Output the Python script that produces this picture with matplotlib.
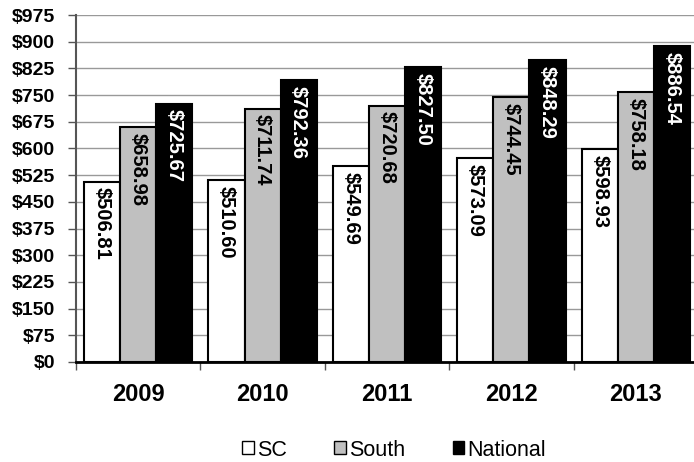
import numpy as np
import matplotlib.pyplot as plt
from matplotlib.patches import Patch

years = ['2009', '2010', '2011', '2012', '2013']
sc = [506.81, 510.60, 549.69, 573.09, 598.93]
south = [658.98, 711.74, 720.68, 744.45, 758.18]
national = [725.67, 792.36, 827.50, 848.29, 886.54]

plt.rcParams['font.family'] = ['Liberation Sans', 'DejaVu Sans']

fig = plt.figure(figsize=(6.94, 4.62), dpi=100)
ax = fig.add_axes([76 / 694, 100 / 462, 622 / 694, 347 / 462])

x = np.arange(len(years))
w = 0.29
series = [(sc, 'white', 'black', 'SC'),
          (south, '#c0c0c0', 'black', 'South'),
          (national, 'black', 'white', 'National')]
for i, (vals, fc, tc, name) in enumerate(series):
    pos = x + (i - 1) * w
    ax.bar(pos, vals, width=w, color=fc, edgecolor='black', linewidth=1.5, zorder=3)
    for p, v in zip(pos, vals):
        ax.text(p, v - 16, f'${v:.2f}', rotation=270, ha='center', va='top',
                color=tc, fontsize=14.5, fontweight='bold', zorder=4)

ax.set_xlim(-0.5, len(years) - 0.5)
ax.set_ylim(0, 975)
ax.set_yticks(np.arange(0, 976, 75))
ax.set_yticklabels([f'${t}' for t in range(0, 976, 75)], fontsize=14, fontweight='bold')
ax.set_xticks(x)
ax.set_xticklabels(years, fontsize=17, fontweight='bold')
ax.set_xticks(np.arange(-0.5, len(years), 1), minor=True)
ax.tick_params(axis='x', which='major', length=0, pad=15)
ax.tick_params(axis='x', which='minor', length=6, width=1, color='#555555')
ax.tick_params(axis='y', length=6, width=1, color='#555555', pad=9)
ax.grid(axis='y', color='#999999', linewidth=1, zorder=0)
for s in ['top', 'right']:
    ax.spines[s].set_visible(False)
ax.spines['left'].set_color('#555555')
ax.spines['left'].set_linewidth(1.5)
ax.spines['bottom'].set_color('black')
ax.spines['bottom'].set_linewidth(2)

handles = [Patch(facecolor=fc, edgecolor='black', label=name) for _, fc, _, name in series]
fig.legend(handles=handles, loc='center', bbox_to_anchor=(394 / 694, 1 - 450 / 462),
           ncol=3, frameon=False, fontsize=15.5, handlelength=0.55, handleheight=0.55,
           handletextpad=0.15, columnspacing=2.2)

fig.savefig('out.png', dpi=100)
